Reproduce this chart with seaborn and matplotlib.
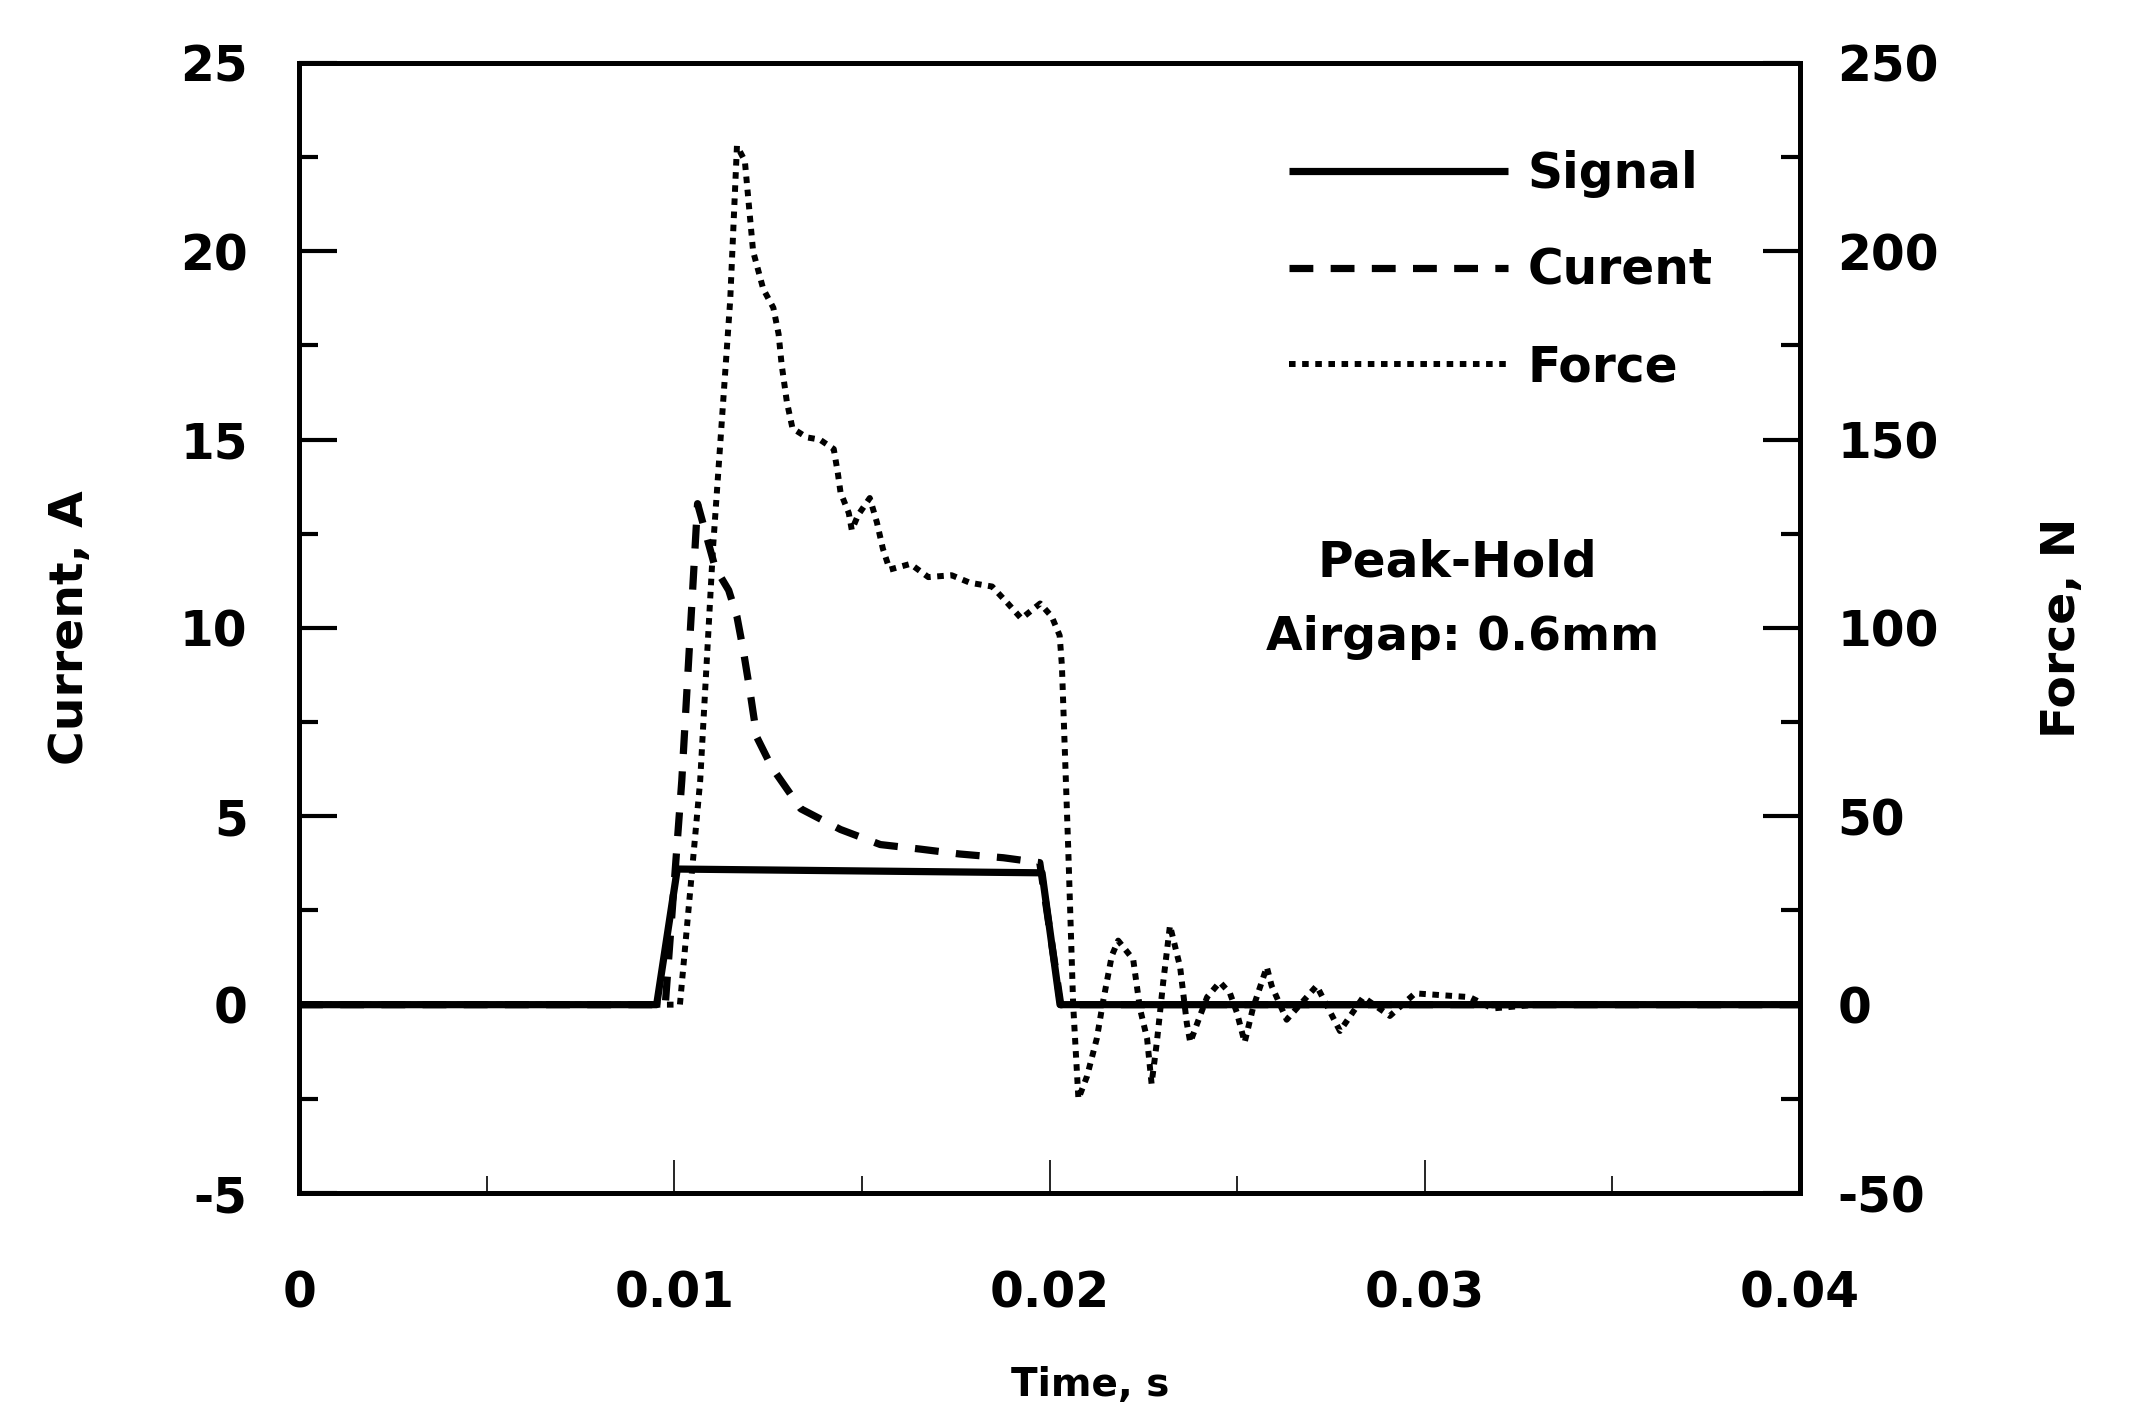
import numpy as np
import pandas as pd
import matplotlib
matplotlib.use("Agg")
import matplotlib.pyplot as plt
from matplotlib.ticker import MultipleLocator, FixedLocator
import seaborn as sns

sns.set_style("white")
plt.rcParams["font.family"] = ["DejaVu Sans"]
plt.rcParams["font.weight"] = "bold"
plt.rcParams["axes.unicode_minus"] = False
plt.rcParams["text.color"] = "black"
plt.rcParams["axes.labelcolor"] = "black"
plt.rcParams["xtick.color"] = "black"
plt.rcParams["ytick.color"] = "black"
plt.rcParams["axes.edgecolor"] = "black"

# ---------------- data (time in seconds) ----------------
signal_t = [0.0, 0.00953, 0.01008, 0.01980, 0.02028, 0.04]
signal_A = [0.0, 0.0, 3.6, 3.5, 0.0, 0.0]

current_t = [0.0, 0.00976, 0.01020, 0.01062, 0.01109, 0.01145, 0.01167, 0.01184,
             0.01202, 0.01220, 0.01260, 0.01337, 0.01443, 0.01549, 0.01655,
             0.01760, 0.01877, 0.01974, 0.02030, 0.04]
current_A = [0.0, 0.0, 5.95, 13.3, 11.6, 11.0, 10.3, 9.4,
             8.3, 7.1, 6.3, 5.2, 4.65, 4.25, 4.13,
             4.0, 3.9, 3.77, 0.0, 0.0]

force_t = [0.0, 0.01015, 0.01069, 0.01103, 0.01149, 0.01167, 0.01188, 0.01210,
           0.01237, 0.01264, 0.01278, 0.01286, 0.01300, 0.01315, 0.01353,
           0.01388, 0.01425, 0.01436, 0.01443, 0.01465, 0.01473, 0.01490,
           0.01521, 0.01540, 0.01556, 0.01574, 0.01629, 0.01677, 0.01739,
           0.01788, 0.01847, 0.01889, 0.01925, 0.01975, 0.02006, 0.02027,
           0.02033, 0.02050, 0.02063, 0.02077, 0.02100, 0.02126, 0.02143,
           0.02166, 0.02183, 0.02223, 0.02241, 0.02260, 0.02272, 0.02286,
           0.02303, 0.02321, 0.02348, 0.02366, 0.02375, 0.02401, 0.02420,
           0.02454, 0.02481, 0.02499, 0.02520, 0.02542, 0.02579, 0.02592,
           0.02632, 0.02712, 0.02774, 0.02836, 0.02907, 0.02974, 0.03120,
           0.03180, 0.03300, 0.04]
force_N = [0, 0, 59.5, 121, 187, 228, 224, 200,
           190, 185, 178, 170, 160, 153, 150.6,
           150, 147.5, 141, 136, 130.5, 126, 130,
           134.5, 128, 121, 115.5, 117, 113.5, 114,
           112, 111, 106.5, 102.5, 106.5, 103, 98,
           90, 41, 0, -25, -19, -9, 1,
           13, 17, 12, -1, -9, -21, -10,
           6, 21, 10, -5, -10, -3, 2,
           6, 3, -2, -10, -1, 10, 5,
           -4, 5, -7, 2, -3, 3, 2,
           -1, 0, 0]

legend_labels = ["Signal", "Curent", "Force"]
x_ticks = [0, 0.01, 0.02, 0.03, 0.04]
x_ticklabels = ["0", "0.01", "0.02", "0.03", "0.04"]
left_ticks = [-5, 0, 5, 10, 15, 20, 25]
right_ticks = [-50, 0, 50, 100, 150, 200, 250]

df_sig = pd.DataFrame({"t": signal_t, "v": signal_A})
df_cur = pd.DataFrame({"t": current_t, "v": current_A})
df_for = pd.DataFrame({"t": force_t, "v": force_N})

# ---------------- figure ----------------
fig = plt.figure(figsize=(21.5, 14.11), dpi=100)
ax = fig.add_axes([0.1391, 0.1545, 0.6981, 0.8009])
ax2 = ax.twinx()

sns.lineplot(data=df_sig, x="t", y="v", ax=ax, color="black", linewidth=5.2,
             sort=False, estimator=None, solid_capstyle="butt")
sns.lineplot(data=df_cur, x="t", y="v", ax=ax, color="black", linewidth=5.2,
             sort=False, estimator=None, linestyle=(0, (3.3, 2.4)))
sns.lineplot(data=df_for, x="t", y="v", ax=ax2, color="black", linewidth=4.3,
             sort=False, estimator=None, linestyle=(0, (1.1, 1.1)))

l_sig, l_cur = ax.lines[0], ax.lines[1]
l_for = ax2.lines[0]

ax.set_xlim(0, 0.04)
ax.set_ylim(-5, 25)
ax2.set_ylim(-50, 250)

ax.xaxis.set_major_locator(FixedLocator(x_ticks))
ax.set_xticklabels(x_ticklabels)
ax.xaxis.set_minor_locator(MultipleLocator(0.005))
ax.set_yticks(left_ticks)
ax.yaxis.set_minor_locator(MultipleLocator(2.5))
ax2.set_yticks(right_ticks)
ax2.yaxis.set_minor_locator(MultipleLocator(25))

tick_fs = 35
ax.tick_params(axis="y", which="major", direction="in", length=27, width=3,
               pad=37, labelsize=tick_fs, left=True, right=False)
ax.tick_params(axis="y", which="minor", direction="in", length=14, width=3,
               left=True, right=False)
ax.tick_params(axis="x", which="major", direction="in", length=24, width=1.2,
               pad=55, labelsize=tick_fs, bottom=True, top=False)
ax.tick_params(axis="x", which="minor", direction="in", length=12, width=1.2,
               bottom=True, top=False)
ax2.tick_params(axis="y", which="major", direction="in", length=27, width=3,
                pad=27, labelsize=tick_fs, right=True, left=False)
ax2.tick_params(axis="y", which="minor", direction="in", length=14, width=3,
                right=True, left=False)
for lab in ax.get_xticklabels() + ax.get_yticklabels() + ax2.get_yticklabels():
    lab.set_fontweight("bold")

for a in (ax, ax2):
    for s in a.spines.values():
        s.set_linewidth(3.5)
        s.set_color("black")
        s.set_visible(True)

ax.set_xlabel("Time, s", fontsize=28, fontweight="bold")
ax.xaxis.set_label_coords(0.527, -0.170)
ax.xaxis.label.set_va("center")
ax.set_ylabel("Current, A", fontsize=34, fontweight="bold")
ax.yaxis.set_label_coords(-0.152, 0.5)
ax.yaxis.label.set_va("center")
ax2.set_ylabel("Force, N", fontsize=34, fontweight="bold", rotation=90)
ax2.yaxis.set_label_coords(1.175, 0.5)
ax2.yaxis.label.set_va("center")

ax.text(0.03087, 11.75, "Peak-Hold", ha="center", va="center",
        fontsize=35, fontweight="bold")
ax.text(0.0310, 9.75, "Airgap: 0.6mm", ha="center", va="center",
        fontsize=34, fontweight="bold")

leg = ax2.legend([l_sig, l_cur, l_for], legend_labels, loc="upper left",
                 bbox_to_anchor=(0.6596, 0.923), frameon=False,
                 handlelength=4.5, handletextpad=0.4,
                 labelspacing=1.0, borderpad=0, borderaxespad=0,
                 prop={"weight": "bold", "size": 35})

fig.savefig("out.png", dpi=100)
